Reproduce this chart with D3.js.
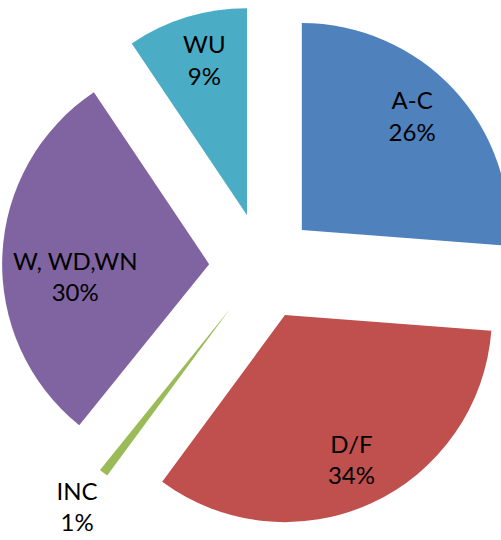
<!DOCTYPE html>
<html>
<head>
<meta charset="utf-8">
<script src="https://cdn.jsdelivr.net/npm/d3@7"></script>
<style>
  body { margin: 0; background: #fff; }
  text { font-family: Lato, "Open Sans", sans-serif; fill: #000; }
</style>
</head>
<body>
<svg id="chart"></svg>
<script>
// data (shares of the whole)
let categories = ["A-C", "D/F", "INC", "W, WD,WN", "WU"];
let shares = [26.2, 33.9, 0.7, 29.8, 9.4];
let colors = ["#4F81BD", "#C0504D", "#9BBB59", "#8064A2", "#4BACC6"];

let width = 501;
let height = 540;
let cx = 262.6;
let cy = 266.5;
let radius = 207;
let explode = 53.5;
let fontSize = 24;
let lineGap = 31.5;

// where each label sits: fraction of radius along the slice bisector, and angle nudge (deg)
let labelPlace = {
  "A-C": [0.765, -3],
  "D/F": [0.77, 0],
  "INC": [1.21, 0],
  "W, WD,WN": [0.65, -8],
  "WU": [0.775, 1.5]
};

let data = categories.map((c, i) => ({name: c, value: shares[i], color: colors[i]}));
let total = d3.sum(shares);
let fmt = d3.format(".0%");

let svg = d3.select('#chart')
  .attr('width', width)
  .attr('height', height);

let pie = d3.pie().sort(null).value(d => d.value);
let arc = d3.arc().innerRadius(0).outerRadius(radius);
let arcs = pie(data);

let g = svg.append('g').attr('transform', `translate(${cx},${cy})`);

let slices = g.selectAll('g.slice')
  .data(arcs)
  .enter()
  .append('g')
    .attr('class', 'slice')
    .attr('transform', d => {
      let a = (d.startAngle + d.endAngle) / 2;
      return `translate(${Math.sin(a) * explode},${-Math.cos(a) * explode})`;
    });

slices.append('path')
  .attr('d', arc)
  .attr('fill', d => d.data.color);

let labels = slices.append('text')
  .attr('text-anchor', 'middle')
  .style('font-size', fontSize + 'px')
  .attr('transform', d => {
    let p = labelPlace[d.data.name];
    let a = (d.startAngle + d.endAngle) / 2 + p[1] * Math.PI / 180;
    let r = radius * p[0];
    return `translate(${Math.sin(a) * r},${-Math.cos(a) * r})`;
  });

labels.append('tspan')
  .attr('x', 0)
  .attr('y', -lineGap / 2)
  .attr('dy', '0.35em')
  .text(d => d.data.name);

labels.append('tspan')
  .attr('x', 0)
  .attr('y', lineGap / 2)
  .attr('dy', '0.35em')
  .text(d => fmt(d.data.value / total));
</script>
</body>
</html>
